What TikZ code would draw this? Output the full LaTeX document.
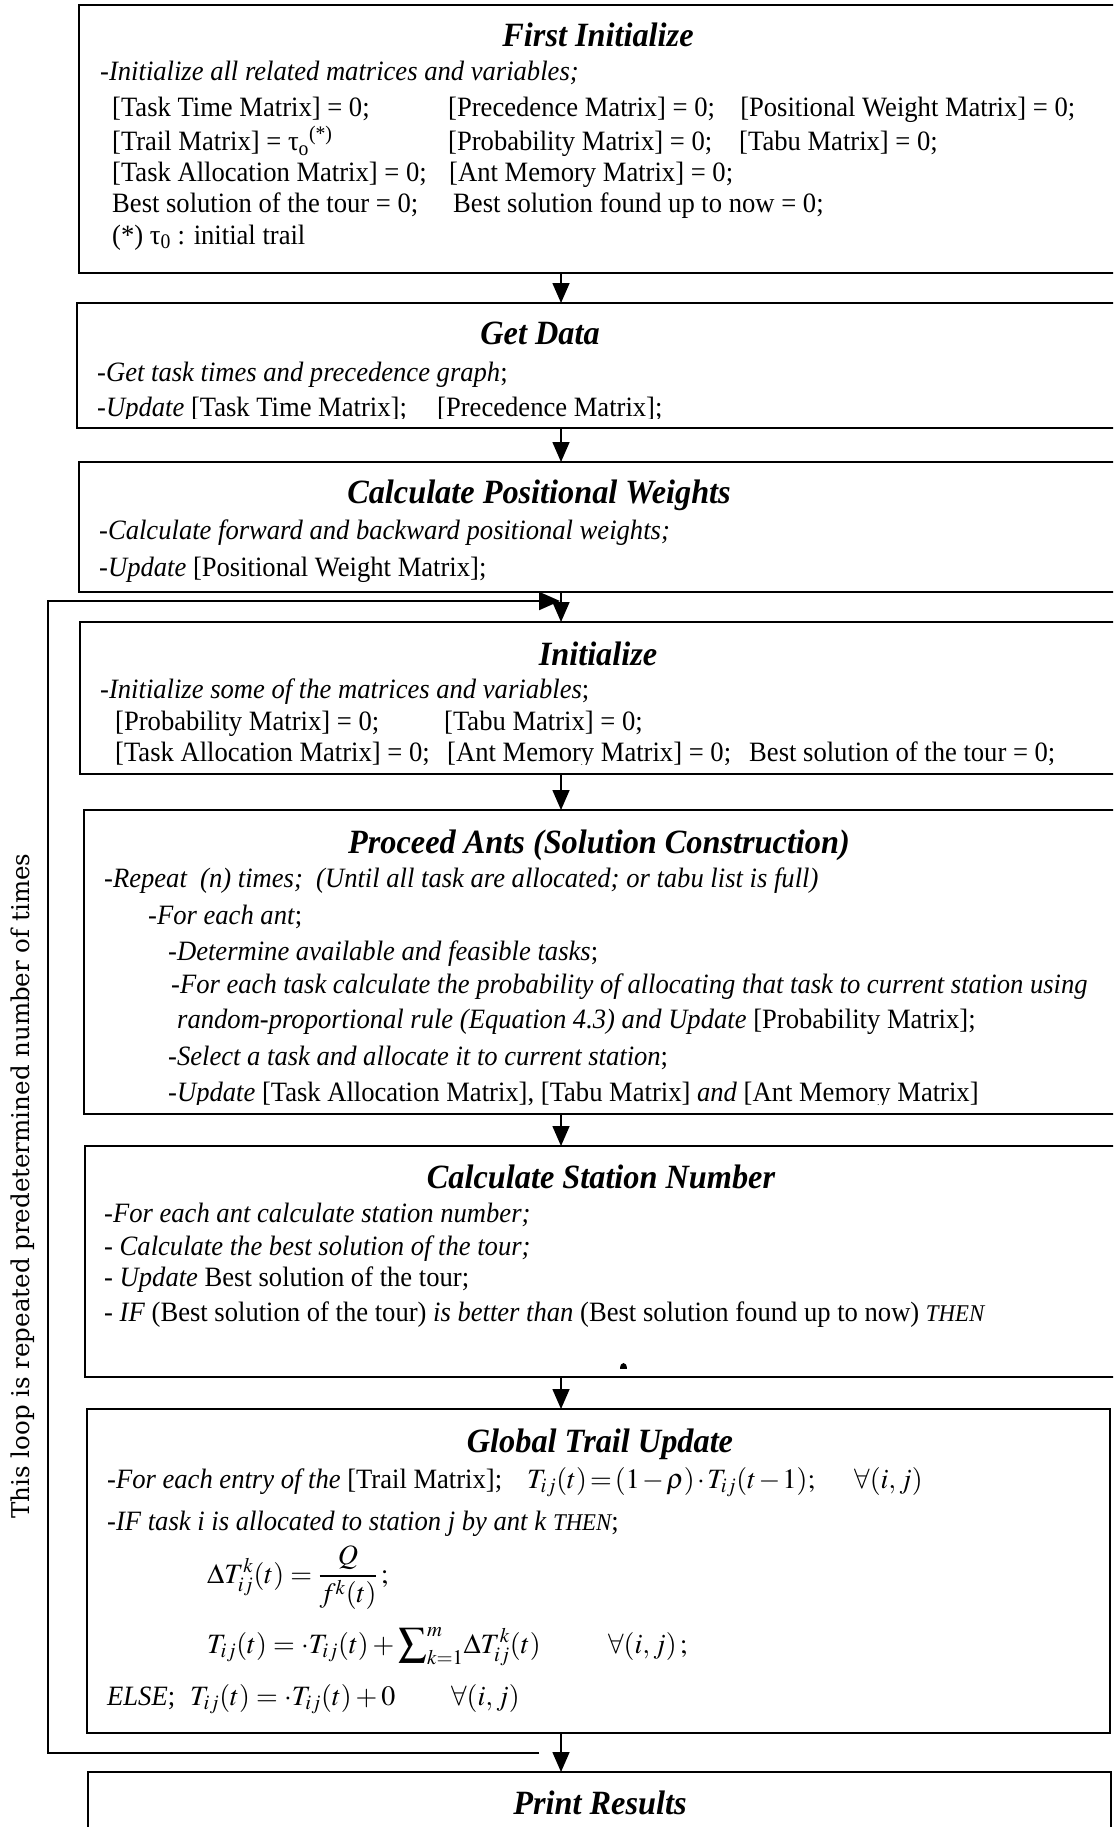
\documentclass[tikz,border=0pt]{standalone}
\usepackage{mathptmx}
\usepackage{fontspec}
\setmainfont{Liberation Serif}[FakeStretch=0.95]
\newfontfamily\loopfont{DejaVu Serif}
\usetikzlibrary{arrows.meta,calc}

\newcommand\bodysize{\fontsize{28}{31}\selectfont}
\newcommand\titlesize{\fontsize{34}{38}\selectfont\bfseries\itshape}
\newcommand\thensize{\fontsize{24}{26}\selectfont\itshape}
\newcommand\tightmath{\thinmuskip=2mu\medmuskip=1.5mu\thickmuskip=2mu}

\tikzset{
  stage/.style={draw=black, line width=2pt, anchor=north west, inner sep=0pt, outer sep=0pt},
  ttl/.style={anchor=base, inner sep=0pt, font=\titlesize},
  txt/.style={anchor=base west, inner sep=0pt, font=\bodysize},
  flow/.style={line width=1.6pt, -{Triangle[length=20pt,width=17pt]}},
  loopline/.style={line width=2pt, -{Triangle[length=21pt,width=18pt]}},
}

\begin{document}
\begin{tikzpicture}[x=1pt, y=-1pt]
\useasboundingbox (0,0) rectangle (1113,1827);
\begin{scope}
\clip (0,0) rectangle (1113,1827);

% stage boxes
\node[stage, minimum width=1070pt, minimum height=268pt] (b1) at (79,5) {};
\node[stage, minimum width=1070pt, minimum height=125pt] (b2) at (77,303) {};
\node[stage, minimum width=1070pt, minimum height=130pt] (b3) at (79,462) {};
\node[stage, minimum width=1070pt, minimum height=152pt] (b4) at (80,622) {};
\node[stage, minimum width=1070pt, minimum height=304pt] (b5) at (84,810) {};
\node[stage, minimum width=1070pt, minimum height=231pt] (b6) at (85,1146) {};
\node[stage, minimum width=1023pt, minimum height=324pt] (b7) at (87,1409) {};
\node[stage, minimum width=1023pt, minimum height=100pt] (b8) at (88,1772) {};

% First Initialize
\node[ttl] (t1) at (598,47) {First Initialize};
\node[txt] (l11) at (100,81) {-\textit{Initialize all related matrices and variables;}};
\node[txt] (l12) at (112,117) {\makebox[336pt][l]{[Task Time Matrix] = 0;}\makebox[292pt][l]{[Precedence Matrix] = 0;}[Positional Weight Matrix] = 0;};
\node[txt] (l13) at (112,151) {\makebox[336pt][l]{[Trail Matrix] = τ\textsubscript{o}\textsuperscript{(*)}}\makebox[291pt][l]{[Probability Matrix] = 0;}[Tabu Matrix] = 0;};
\node[txt] (l14) at (112,182) {\makebox[337pt][l]{[Task Allocation Matrix] = 0;}[Ant Memory Matrix] = 0;};
\node[txt] (l15) at (112,213) {\makebox[341pt][l]{Best solution of the tour = 0;}Best solution found up to now = 0;};
\node[txt] (l16) at (112,244) {(*) τ\textsubscript{0} : initial trail};

% Get Data
\node[ttl] (t2) at (540,344) {Get Data};
\begin{scope}
\clip (b2.north west) rectangle ($(b2.south east)+(0,-10)$);
\node[txt] (l21) at (97,381) {-\textit{Get task times and precedence graph};};
\node[txt] (l22) at (97,416) {\makebox[340pt][l]{-\textit{Update} [Task Time Matrix];}[Precedence Matrix];};
\end{scope}

% Calculate Positional Weights
\node[ttl] (t3) at (539,503) {Calculate Positional Weights};
\node[txt] (l31) at (99,539) {-\textit{Calculate forward and backward positional weights;}};
\node[txt] (l32) at (99,576) {-\textit{Update} [Positional Weight Matrix];};

% Initialize
\node[ttl] (t4) at (598,665) {Initialize};
\begin{scope}
\clip (b4.north west) rectangle ($(b4.south east)+(0,-10)$);
\node[txt] (l41) at (100,698) {-\textit{Initialize some of the matrices and variables};};
\node[txt] (l42) at (115,730) {\makebox[329pt][l]{[Probability Matrix] = 0;}[Tabu Matrix] = 0;};
\node[txt] (l43) at (115,761) {\makebox[332pt][l]{[Task Allocation Matrix] = 0;}\makebox[302pt][l]{[Ant Memory Matrix] = 0;}Best solution of the tour = 0;};
\end{scope}

% Proceed Ants
\node[ttl] (t5) at (599,853) {Proceed Ants (Solution Construction)};
\begin{scope}
\clip (b5.north west) rectangle ($(b5.south east)+(0,-10)$);
\node[txt] (l51) at (104,887) {-\textit{Repeat\ \ (n) times;\ \ (Until all task are allocated; or tabu list is full)}};
\node[txt] (l52) at (148,924) {-\textit{For each ant};};
\node[txt] (l53) at (168,960) {-\textit{Determine available and feasible tasks};};
\node[txt] (l54) at (171,993) {-\textit{For each task calculate the probability of allocating that task to current station using}};
\node[txt] (l55) at (177,1028) {\textit{random-proportional rule (Equation 4.3) and Update} [Probability Matrix];};
\node[txt] (l56) at (168,1065) {-\textit{Select a task and allocate it to current station};};
\node[txt] (l57) at (168,1101) {-\textit{Update} [Task Allocation Matrix], [Tabu Matrix] \textit{and} [Ant Memory Matrix]};
\end{scope}

% Calculate Station Number
\node[ttl] (t6) at (601,1188) {Calculate Station Number};
\node[txt] (l61) at (104,1222) {-\textit{For each ant calculate station number;}};
\node[txt] (l62) at (104,1255) {- \textit{Calculate the best solution of the tour;}};
\node[txt] (l63) at (104,1286) {- \textit{Update} Best solution of the tour;};
\node[txt] (l64) at (104,1321) {- \textit{IF} (Best solution of the tour) \textit{is better than} (Best solution found up to now) {\thensize THEN}};
\fill (619.5,1369) .. controls (619.5,1361) and (626.5,1361) .. (626.5,1369) -- cycle;

% Global Trail Update
\node[ttl] (t7) at (600,1452) {Global Trail Update};
\node[txt] (l71) at (107,1488) {-\textit{For each entry of the} [Trail Matrix];};
\node[txt] (m71) at (527,1488) {$\tightmath T_{ij}(t) = (1-\rho)\cdot T_{ij}(t-1);$};
\node[txt] (m72) at (854,1488) {$\forall(i,j)$};
\node[txt] (l72) at (107,1530) {-\textit{IF task i is allocated to station j by ant k} {\thensize THEN};};
\node[txt] (m73) at (207,1583) {$\Delta T_{ij}^{k}(t) = {\displaystyle\frac{Q}{f^{k}(t)}}\,;$};
\node[txt] (m74) at (207,1653) {$T_{ij}(t) = \cdot T_{ij}(t) + {\displaystyle\sum\nolimits_{k=1}^{m}}\Delta T_{ij}^{k}(t)$};
\node[txt] (m75) at (608,1653) {$\forall(i,j)\,;$};
\node[txt] (l73) at (107,1705) {\textit{ELSE};};
\node[txt] (m76) at (190,1705) {$T_{ij}(t) = \cdot T_{ij}(t) + 0$};
\node[txt] (m77) at (451,1705) {$\forall(i,j)$};

% Print Results
\node[ttl] (t8) at (600,1814) {Print Results};

% main flow
\coordinate (spine) at (561,0);
\draw[flow] (b1.south -| spine) -- (b2.north -| spine);
\draw[flow] (b2.south -| spine) -- (b3.north -| spine);
\draw[flow] (b3.south -| spine) -- (b4.north -| spine);
\draw[flow] (b4.south -| spine) -- (b5.north -| spine);
\draw[flow] (b5.south -| spine) -- (b6.north -| spine);
\draw[flow] (b6.south -| spine) -- (b7.north -| spine);
\draw[flow] (b7.south -| spine) -- (b8.north -| spine);

% repetition loop
\coordinate (loopfrom) at (539,1753);
\coordinate (loopside) at (48,1200);
\coordinate (loopto) at (560,601);
\draw[loopline] (loopfrom) -| (loopside) |- (loopto);
\node[rotate=90, inner sep=0pt, font=\loopfont\fontsize{24.5}{26}\selectfont] (looplabel) at (23,1186) {This loop is repeated predetermined number of times};
\end{scope}
\end{tikzpicture}
\end{document}
